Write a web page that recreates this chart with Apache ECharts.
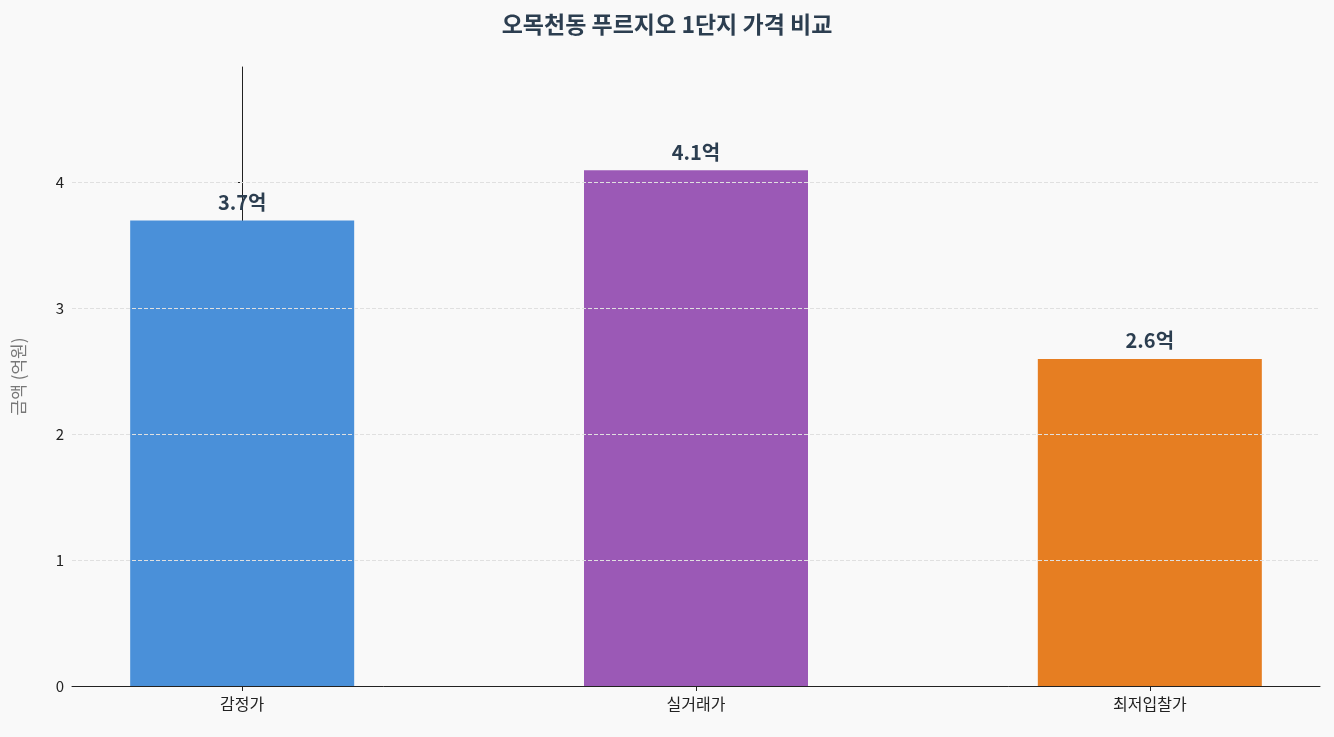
<!DOCTYPE html>
<html><head><meta charset="utf-8">
<script src="https://cdn.jsdelivr.net/npm/echarts@6/dist/echarts.min.js"></script>
<style>html,body{margin:0;background:#f9f9f9}#c{width:1334px;height:737px}</style>
</head><body><div id="c"></div>
<script>
const categories = ['감정가', '실거래가', '최저입찰가'];
const values = [3.7, 4.1, 2.6];
const colors = ['#4a90d9', '#9b59b6', '#e67e22'];
const yTicks = [0, 1, 2, 3, 4];
const font = '"Noto Sans CJK KR", "Noto Sans", sans-serif';
const chart = echarts.init(document.getElementById('c'));
chart.setOption({
  backgroundColor: '#f9f9f9',
  textStyle: { fontFamily: font },
  title: { text: '오목천동 푸르지오 1단지 가격 비교', left: 'center', top: 8,
    textStyle: { fontSize: 23, fontWeight: 'bold', color: '#2c3e50', fontFamily: font } },
  grid: { left: 72, right: 14, top: 67, bottom: 51 },
  xAxis: { type: 'value', min: -0.375, max: 2.375,
    axisLine: { show: true, lineStyle: { color: '#222' } },
    axisTick: { show: true, customValues: [0, 1, 2], lineStyle: { color: '#222' } },
    axisLabel: { customValues: [0, 1, 2], formatter: v => categories[Math.round(v)], fontSize: 16, color: '#222', margin: 10 },
    splitLine: { show: false } },
  yAxis: { type: 'value', min: 0, max: 4.92,
    name: '금액 (억원)', nameLocation: 'middle', nameGap: 45, nameRotate: 90,
    nameTextStyle: { fontSize: 17, color: '#777' },
    axisLine: { show: true, lineStyle: { color: '#222' } },
    axisTick: { show: true, customValues: yTicks, lineStyle: { color: '#222' } },
    axisLabel: { customValues: yTicks, fontSize: 15, color: '#222' },
    splitLine: { show: false } },
  series: [{
    type: 'bar', barWidth: 224,
    data: values.map((v, i) => ({ value: [i, v], itemStyle: { color: colors[i] } })),
    label: { show: true, position: 'top', distance: 8, formatter: p => p.value[1].toFixed(1) + '억',
      fontSize: 20, fontWeight: 'bold', color: '#2c3e50' },
    markLine: { silent: true, symbol: 'none', label: { show: false },
      lineStyle: { type: 'dashed', color: '#e0e0e0', width: 1 },
      data: yTicks.slice(1).map(t => ({ yAxis: t })) },
    z: 3
  }]
});
</script></body></html>
